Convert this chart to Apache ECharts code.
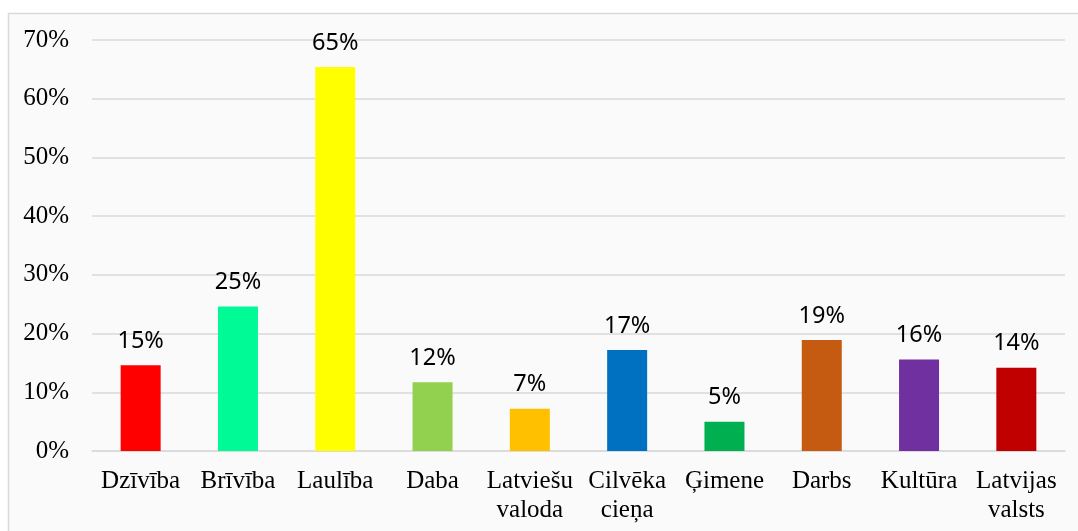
<!DOCTYPE html>
<html>
<head>
<meta charset="utf-8">
<script src="https://cdn.jsdelivr.net/npm/echarts@6/dist/echarts.min.js"></script>
<style>
  html, body { margin: 0; padding: 0; background: #fff; }
  #chart { width: 1078px; height: 531px; }
</style>
</head>
<body>
<div id="chart"></div>
<script>
// values (share of answers, %)
var categories = ['Dzīvība', 'Brīvība', 'Laulība', 'Daba', 'Latviešu\nvaloda', 'Cilvēka\ncieņa', 'Ģimene', 'Darbs', 'Kultūra', 'Latvijas\nvalsts'];
var values = [14.6, 24.6, 65.4, 11.7, 7.2, 17.2, 5.0, 18.9, 15.6, 14.2];
var barColors = ['#FF0000', '#00FA96', '#FFFF00', '#92D050', '#FFC000', '#0070C0', '#00B050', '#C55A11', '#7030A0', '#C00000'];

var chart = echarts.init(document.getElementById('chart'));

var option = {
  animation: false,
  backgroundColor: '#ffffff',
  graphic: [
    {
      type: 'rect',
      z: -10,
      shape: {x: 8.5, y: 13.5, width: 1080, height: 530},
      style: {fill: '#fafafa', stroke: '#d9d9d9', lineWidth: 1.5}
    }
  ],
  grid: {
    left: 92,
    right: 13,
    top: 40,
    bottom: 80
  },
  xAxis: {
    type: 'category',
    data: categories,
    axisTick: {show: false},
    axisLine: {lineStyle: {color: '#d9d9d9', width: 1.5}},
    axisLabel: {
      interval: 0,
      margin: 16,
      color: '#000',
      fontFamily: 'Liberation Serif',
      fontSize: 25,
      lineHeight: 29
    }
  },
  yAxis: {
    type: 'value',
    min: 0,
    max: 70,
    interval: 10,
    axisLine: {show: false},
    axisTick: {show: false},
    axisLabel: {
      margin: 23,
      color: '#000',
      fontFamily: 'Liberation Serif',
      fontSize: 25,
      formatter: '{value}%'
    },
    splitLine: {lineStyle: {color: '#d9d9d9', width: 1.5}}
  },
  series: [
    {
      type: 'bar',
      barWidth: 40,
      data: values.map(function (v, i) {
        return {value: v, itemStyle: {color: barColors[i]}};
      }),
      label: {
        show: true,
        position: 'top',
        distance: 12,
        color: '#000',
        fontFamily: 'Noto Sans',
        fontSize: 23.5,
        formatter: function (p) { return Math.round(p.value) + '%'; }
      }
    }
  ]
};

chart.setOption(option);
</script>
</body>
</html>
